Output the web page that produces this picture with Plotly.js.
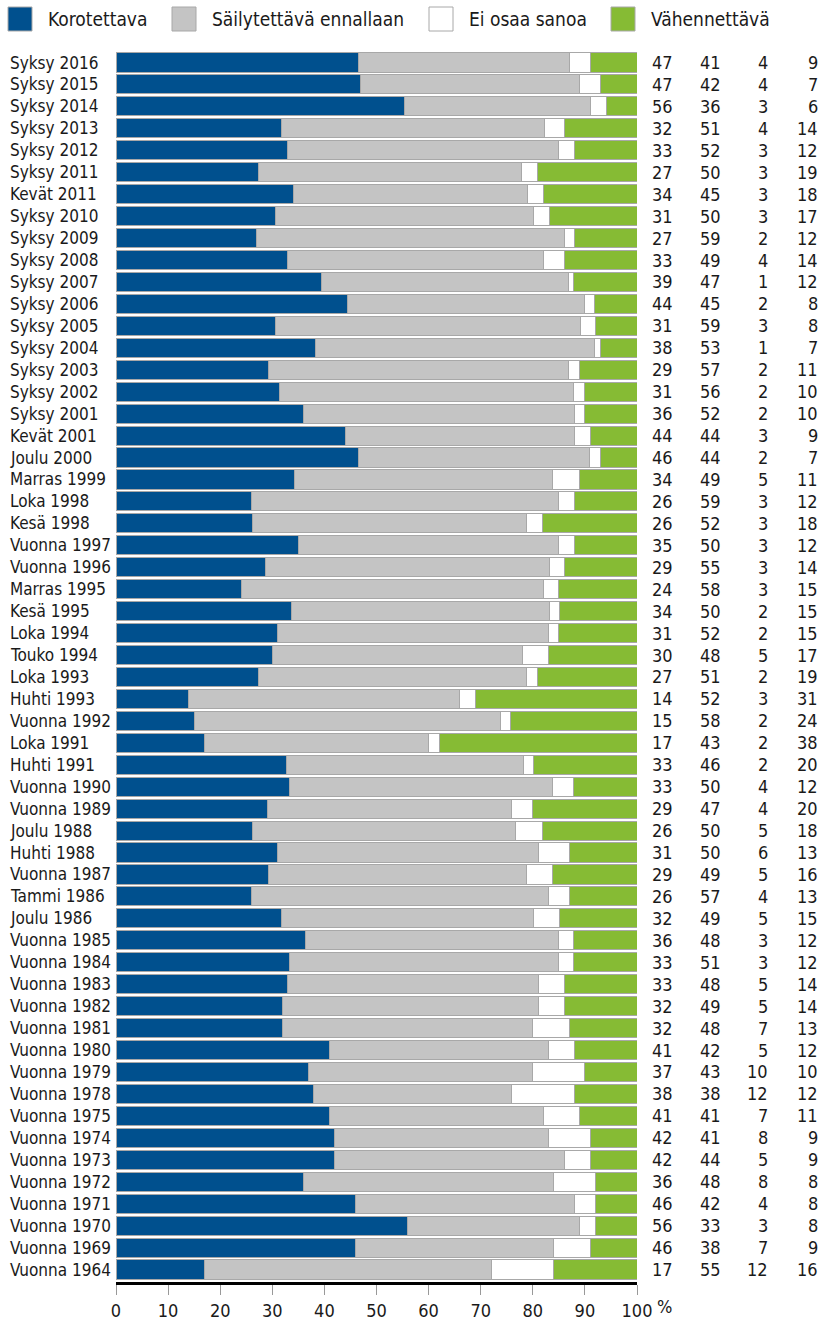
<!DOCTYPE html>
<html>
<head>
<meta charset="utf-8">
<script src="https://cdn.plot.ly/plotly-3.0.1.min.js"></script>
<style>
  html, body { margin: 0; padding: 0; background: #fff; }
  #chart { width: 823px; height: 1320px; }
</style>
</head>
<body>
<div id="chart"></div>
<script>
const categories = [
  "Syksy 2016","Syksy 2015","Syksy 2014","Syksy 2013","Syksy 2012","Syksy 2011","Kevät 2011",
  "Syksy 2010","Syksy 2009","Syksy 2008","Syksy 2007","Syksy 2006","Syksy 2005","Syksy 2004",
  "Syksy 2003","Syksy 2002","Syksy 2001","Kevät 2001","Joulu 2000","Marras 1999","Loka 1998",
  "Kesä 1998","Vuonna 1997","Vuonna 1996","Marras 1995","Kesä 1995","Loka 1994","Touko 1994",
  "Loka 1993","Huhti 1993","Vuonna 1992","Loka 1991","Huhti 1991","Vuonna 1990","Vuonna 1989",
  "Joulu 1988","Huhti 1988","Vuonna 1987","Tammi 1986","Joulu 1986","Vuonna 1985","Vuonna 1984",
  "Vuonna 1983","Vuonna 1982","Vuonna 1981","Vuonna 1980","Vuonna 1979","Vuonna 1978","Vuonna 1975",
  "Vuonna 1974","Vuonna 1973","Vuonna 1972","Vuonna 1971","Vuonna 1970","Vuonna 1969","Vuonna 1964"
];
const korotettava = [47,47,56,32,33,27,34,31,27,33,39,44,31,38,29,31,36,44,46,34,26,26,35,29,24,34,31,30,27,14,15,17,33,33,29,26,31,29,26,32,36,33,33,32,32,41,37,38,41,42,42,36,46,56,46,17];
const sailytettava = [41,42,36,51,52,50,45,50,59,49,47,45,59,53,57,56,52,44,44,49,59,52,50,55,58,50,52,48,51,52,58,43,46,50,47,50,50,49,57,49,48,51,48,49,48,42,43,38,41,41,44,48,42,33,38,55];
const eiOsaaSanoa = [4,4,3,4,3,3,3,3,2,4,1,2,3,1,2,2,2,3,2,5,3,3,3,3,3,2,2,5,2,3,2,2,2,4,4,5,6,5,4,5,3,3,5,5,7,5,10,12,7,8,5,8,4,3,7,12];
const vahennettava = [9,7,6,14,12,19,18,17,12,14,12,8,8,7,11,10,10,9,7,11,12,18,12,14,15,15,15,17,19,31,24,38,20,12,20,18,13,16,13,15,12,12,14,14,13,12,10,12,11,9,9,8,8,8,9,16];
const seriesNames = ["Korotettava","Säilytettävä ennallaan","Ei osaa sanoa","Vähennettävä"];
const xTickValues = [0,10,20,30,40,50,60,70,80,90,100];
const unitLabel = "%";

const seriesValues = [korotettava, sailytettava, eiOsaaSanoa, vahennettava];
const colors = ["#00508e","#c4c4c4","#ffffff","#86bb34"];
const FONT = "'DejaVu Sans Condensed', 'DejaVu Sans', sans-serif";
const TXT = "#1a1a1a";

const traces = seriesNames.map((name, k) => ({
  type: "bar",
  orientation: "h",
  name: name,
  y: categories,
  x: seriesValues[k],
  marker: { color: colors[k], line: { color: "#a8a8a8", width: 1 } },
  showlegend: false,
  hoverinfo: "x+y+name"
}));

const annotations = [];
// category labels, left aligned
categories.forEach(c => {
  annotations.push({
    xref: "paper", yref: "y", x: -0.207, y: c, text: c, showarrow: false,
    xanchor: "left", yanchor: "middle", font: { family: FONT, size: 17, color: TXT }
  });
});
// value table on the right
const colX = [1.073, 1.165, 1.255, 1.351];
categories.forEach((c, i) => {
  seriesValues.forEach((arr, k) => {
    annotations.push({
      xref: "paper", yref: "y", x: colX[k], y: c, text: String(arr[i]), showarrow: false,
      xanchor: "right", yanchor: "middle", font: { family: FONT, size: 18, color: TXT }
    });
  });
});
// percent unit
annotations.push({
  xref: "paper", yref: "paper", x: 1.052, y: 0, yshift: -24, text: unitLabel, showarrow: false,
  xanchor: "center", yanchor: "middle", font: { family: FONT, size: 18, color: TXT }
});

// custom legend
const shapes = [];
const legendSquareX = [8, 172, 429, 611];
const plotLeft = 116, plotWidth = 521, plotTop = 50, plotHeight = 1232;
const px = v => (v - plotLeft) / plotWidth;
const py = v => 1 + (plotTop - v) / plotHeight;
seriesNames.forEach((name, k) => {
  shapes.push({
    type: "rect", xref: "paper", yref: "paper",
    x0: px(legendSquareX[k]), x1: px(legendSquareX[k] + 24),
    y0: py(31), y1: py(7),
    fillcolor: colors[k], line: { color: "#a8a8a8", width: 1 }
  });
  annotations.push({
    xref: "paper", yref: "paper", x: px(legendSquareX[k] + 38), y: py(19),
    text: name, showarrow: false, xanchor: "left", yanchor: "middle",
    font: { family: FONT, size: 19, color: TXT }
  });
});

const layout = {
  width: 823, height: 1320,
  margin: { l: 116, r: 186, t: 50, b: 38 },
  paper_bgcolor: "#ffffff", plot_bgcolor: "#ffffff",
  barmode: "stack", barnorm: "percent", bargap: 0.13,
  font: { family: FONT, size: 18, color: TXT },
  xaxis: {
    range: [0, 100], tickvals: xTickValues, ticktext: xTickValues.map(String),
    showgrid: false, zeroline: false, showline: true, linecolor: "#000000", linewidth: 3,
    ticks: "outside", ticklen: 10, tickcolor: "#999999", tickwidth: 1,
    tickfont: { family: FONT, size: 18, color: TXT }, fixedrange: true
  },
  yaxis: {
    type: "category", autorange: "reversed", showticklabels: false, showgrid: false,
    zeroline: false, showline: false, ticks: "", fixedrange: true
  },
  annotations: annotations,
  shapes: shapes
};

Plotly.newPlot("chart", traces, layout, { displayModeBar: false, staticPlot: true });
</script>
</body>
</html>
